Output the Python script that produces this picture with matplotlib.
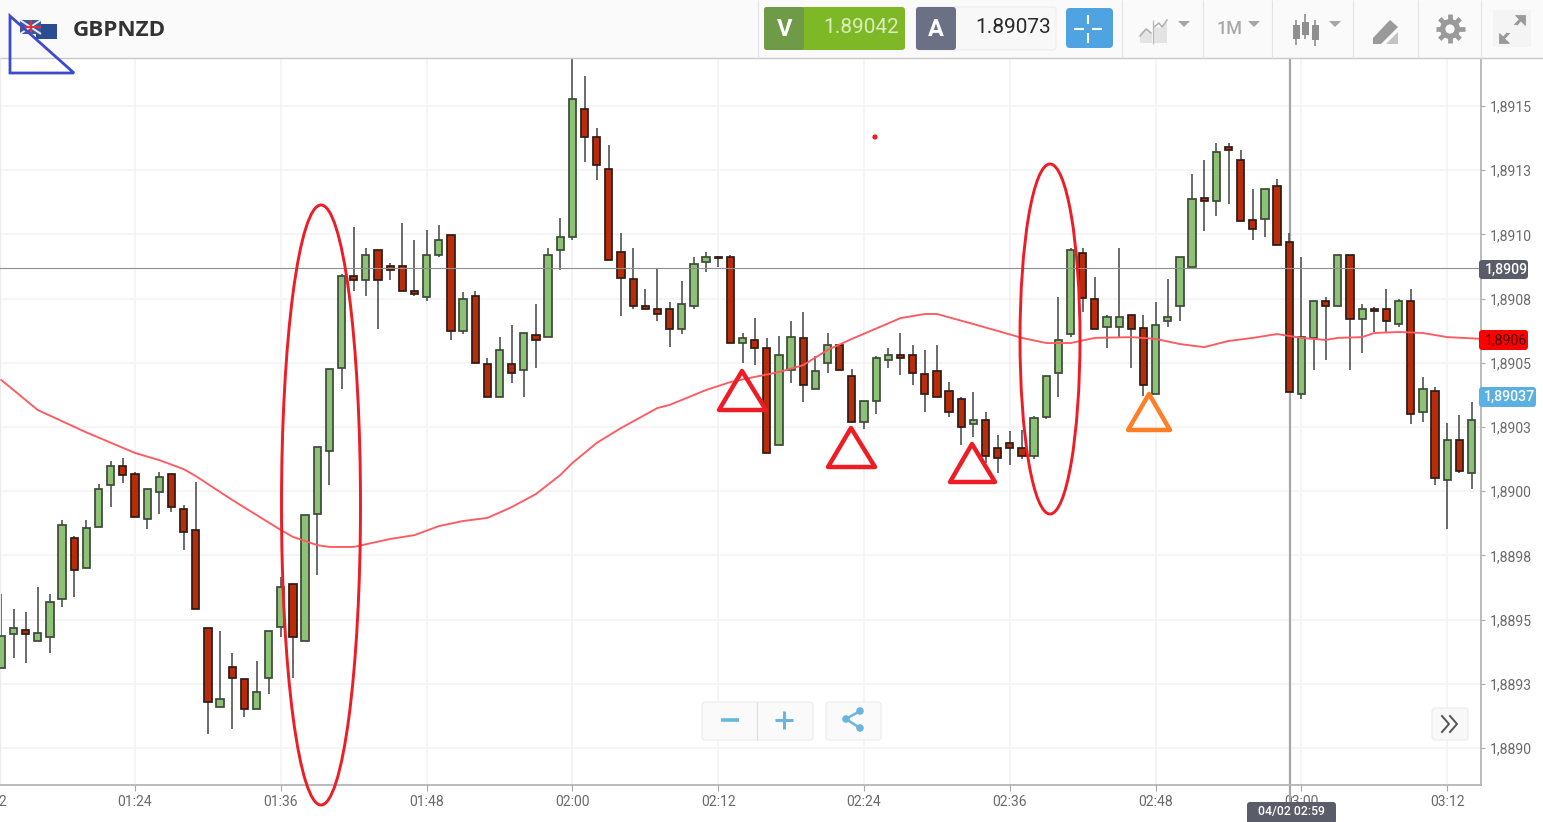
import numpy as np
import matplotlib
matplotlib.use('Agg')
import matplotlib.pyplot as plt
from matplotlib.patches import FancyBboxPatch, Rectangle, Ellipse, Polygon, Circle

plt.rcParams['font.family'] = ['Roboto', 'DejaVu Sans']

# prices are in 1e-5 above this base (one candle a minute, first one is 01:13)
base_price = 1.8890
first_minute = 73

opens = [31.2, 44.4, 45.9, 41.7, 43.2, 58.0, 81.8, 70.1, 86.1, 102.4,
         109.8, 106.7, 89.2, 99.7, 106.7, 93.1, 84.9, 46.7, 16.0, 31.5,
         26.9, 15.2, 27.3, 47.1, 63.9, 41.7, 91.1, 115.7, 148.0, 183.8,
         182.2, 193.9, 187.7, 187.7, 178.0, 175.6, 192.0, 199.8, 162.4, 176.0,
         149.5, 136.7, 149.5, 147.2, 160.8, 160.0, 193.9, 199.0, 248.8, 237.9,
         225.5, 193.1, 182.6, 172.1, 170.9, 170.9, 163.2, 172.1, 189.2, 191.2,
         191.2, 157.7, 158.9, 155.8, 118.0, 147.2, 159.7, 139.8, 149.9, 156.9,
         144.9, 126.9, 135.1, 151.1, 153.0, 153.0, 145.6, 146.8, 139.0, 135.9,
         126.2, 127.7, 116.8, 118.8, 116.8, 113.7, 128.9, 146.0, 161.2, 192.8,
         174.8, 163.9, 163.9, 168.6, 163.5, 137.8, 166.3, 172.1, 187.3, 214.2,
         213.0, 234.0, 229.0, 205.6, 206.0, 218.8, 197.0, 137.8, 159.7, 174.1,
         172.1, 192.0, 167.1, 170.9, 170.9, 165.1, 174.1, 130.8, 139.0, 104.4,
         119.9, 107.1]
closes = [43.6, 46.7, 44.4, 44.8, 56.9, 86.8, 69.3, 85.7, 100.9, 109.8,
          106.3, 90.0, 100.9, 105.5, 93.8, 84.1, 54.1, 17.9, 19.1, 27.3,
          15.2, 21.8, 45.6, 62.7, 43.2, 90.7, 117.2, 147.6, 183.8, 182.2,
          192.0, 182.2, 186.1, 178.0, 176.8, 192.0, 197.8, 162.4, 174.8, 149.9,
          136.7, 155.0, 146.0, 161.6, 158.9, 192.0, 199.0, 252.7, 237.9, 227.0,
          190.0, 183.0, 172.1, 170.9, 169.0, 163.2, 172.9, 188.5, 191.2, 191.0,
          157.7, 159.7, 155.8, 114.9, 153.0, 160.0, 141.4, 146.8, 156.9, 147.2,
          126.9, 135.1, 151.9, 153.0, 151.9, 146.0, 137.8, 136.7, 130.8, 125.0,
          127.7, 113.7, 112.9, 116.8, 113.7, 128.5, 144.9, 158.9, 193.9, 175.2,
          163.2, 167.8, 167.8, 163.2, 141.4, 164.7, 167.8, 191.2, 213.8, 213.0,
          232.1, 232.9, 205.2, 202.1, 217.7, 195.9, 138.6, 160.0, 174.1, 172.1,
          192.0, 167.1, 170.9, 170.2, 166.3, 174.1, 130.1, 139.8, 105.1, 119.9,
          107.9, 127.7]
highs = [60.0, 54.1, 53.0, 62.7, 60.0, 88.8, 82.6, 88.8, 102.8, 111.8,
         112.9, 107.5, 100.9, 107.5, 106.7, 94.6, 103.6, 46.7, 45.6, 37.0,
         26.9, 33.9, 45.6, 66.6, 63.9, 90.7, 117.2, 147.6, 184.6, 202.9,
         194.7, 193.9, 188.9, 204.4, 197.8, 201.7, 203.7, 199.8, 177.6, 178.0,
         151.9, 160.0, 164.7, 161.6, 172.9, 194.7, 206.4, 271.8, 261.7, 241.4,
         234.8, 200.5, 194.7, 178.7, 186.5, 173.7, 181.8, 191.2, 193.1, 191.6,
         192.0, 161.6, 167.4, 159.7, 160.4, 166.3, 169.8, 152.6, 161.6, 156.9,
         147.6, 135.1, 152.6, 155.8, 161.6, 156.9, 155.0, 156.9, 142.5, 136.7,
         138.6, 130.8, 121.9, 123.4, 123.8, 129.3, 144.9, 175.6, 194.7, 194.7,
         183.4, 168.6, 194.7, 168.6, 168.6, 173.7, 182.6, 191.2, 223.5, 229.0,
         235.6, 235.6, 232.9, 217.7, 217.7, 221.6, 200.5, 191.2, 174.1, 175.6,
         192.0, 192.0, 172.9, 171.7, 178.7, 174.8, 178.7, 144.5, 140.6, 126.6,
         129.7, 134.7]
lows = [31.2, 35.0, 33.1, 41.7, 37.0, 54.9, 58.8, 70.1, 86.1, 93.8,
        103.2, 90.0, 85.3, 91.1, 91.9, 77.1, 54.1, 5.5, 16.0, 7.4,
        12.1, 15.2, 21.0, 43.2, 27.3, 41.7, 67.4, 102.4, 139.8, 178.0,
        176.0, 163.2, 182.2, 178.0, 176.0, 174.1, 191.2, 158.9, 161.2, 149.9,
        136.7, 136.7, 142.1, 136.7, 148.0, 160.0, 186.1, 197.8, 228.2, 221.2,
        190.0, 168.2, 170.9, 170.9, 166.3, 156.1, 161.2, 170.9, 185.4, 187.3,
        157.7, 149.9, 149.1, 114.9, 118.0, 142.1, 134.7, 139.8, 146.0, 147.2,
        126.9, 124.2, 130.1, 148.0, 145.2, 141.4, 130.8, 136.7, 128.9, 118.0,
        121.1, 111.0, 107.1, 110.2, 112.5, 112.5, 128.1, 136.7, 160.0, 169.8,
        163.2, 155.8, 160.0, 148.0, 137.1, 137.8, 163.9, 166.3, 187.3, 201.3,
        207.2, 211.8, 205.2, 197.8, 199.0, 195.9, 138.6, 135.9, 147.2, 151.1,
        172.1, 147.2, 153.8, 162.0, 162.0, 163.9, 126.2, 126.9, 102.4, 85.3,
        107.1, 100.9]

ma_minutes = [73, 76, 80, 84, 86, 88, 89, 92, 96, 97, 99, 100, 102, 105, 107, 109,
              111, 113, 115, 117, 119, 120, 122, 124, 127, 128, 131, 133, 135, 137,
              139, 141, 143, 147, 149, 150, 153, 157, 159, 161, 163, 166, 168, 170,
              172, 174, 176, 178, 180, 182, 183, 185, 186, 188, 190, 192, 195]
ma_values = [143.3, 131.6, 122.9, 114.9, 112.1, 108.6, 105.9, 96.6, 84.9, 82.2, 79.0,
             78.3, 78.3, 81.4, 82.9, 86.4, 88.4, 89.6, 93.8, 98.9, 106.3, 111.0, 118.8,
             124.6, 132.4, 133.6, 139.4, 142.5, 144.5, 146.4, 149.1, 155.0, 159.3, 167.4,
             169.0, 169.0, 165.1, 159.7, 157.7, 157.7, 159.7, 160.0, 159.3, 157.3, 156.1,
             158.5, 159.7, 161.2, 159.7, 158.9, 159.7, 160.0, 161.6, 162.0, 161.6, 160.0,
             159.3]

y_ticks = [1.8890, 1.88925, 1.8895, 1.88975, 1.8900, 1.89025, 1.8905, 1.89075, 1.8910, 1.89125, 1.8915]
y_labels = ['1,8890', '1,8893', '1,8895', '1,8898', '1,8900', '1,8903', '1,8905', '1,8908',
            '1,8910', '1,8913', '1,8915']
x_ticks = [84, 96, 108, 120, 132, 144, 156, 168, 180, 192]
x_labels = ['01:24', '01:36', '01:48', '02:00', '02:12', '02:24', '02:36', '02:48', '03:00', '03:12']

crosshair_price = 1.89087
crosshair_minute = 179.07

W, H = 1543, 822
fig = plt.figure(figsize=(W / 100, H / 100), dpi=100, facecolor='white')
ax = fig.add_axes([0, (H - 785) / H, 1481 / W, (785 - 59) / H])

minutes = first_minute + np.arange(len(opens))
o = base_price + np.array(opens) * 1e-5
c = base_price + np.array(closes) * 1e-5
hi = base_price + np.array(highs) * 1e-5
lo = base_price + np.array(lows) * 1e-5
up = c >= o

ax.set_axisbelow(True)
ax.grid(True, color='#f3f3f3', lw=1.2)

ax.axvline(crosshair_minute, ymin=-0.052, ymax=1, color='#a6a6a6', lw=1.6, clip_on=False, zorder=1.5)

ax.vlines(minutes, lo, hi, color='#444444', lw=1.1, zorder=2)
ax.bar(minutes[up], (c - o)[up], bottom=o[up], width=0.6, color='#8cc176',
       edgecolor='#3d4a38', lw=1.25, zorder=3)
ax.bar(minutes[~up], (c - o)[~up], bottom=o[~up], width=0.6, color='#b82c0a',
       edgecolor='#2e1a14', lw=1.25, zorder=3)

ax.plot(ma_minutes, base_price + np.array(ma_values) * 1e-5, color='#ff5a5f', lw=1.35, zorder=4)
ax.axhline(crosshair_price, color='#8f8f8f', lw=0.8, zorder=5)

ax.set_xlim(84 - 135 / 12.15, 84 + 1346 / 12.15)
ax.set_ylim(base_price - 14.4e-5, base_price + 268.3e-5)
ax.set_xticks(x_ticks)
ax.set_xticklabels(x_labels)
ax.set_yticks(y_ticks)
ax.set_yticklabels(y_labels)
ax.yaxis.tick_right()
ax.tick_params(axis='x', length=4, color='#a8a8a8', labelcolor='#6a6a6a', labelsize=10.1, pad=3.5)
ax.tick_params(axis='y', length=3, color='#a8a8a8', labelcolor='#6a6a6a', labelsize=10.1, pad=3)
ax.spines['top'].set_visible(False)
ax.spines['left'].set_color('#ececec')
ax.spines['right'].set_color('#b5b5b5')
ax.spines['bottom'].set_color('#b5b5b5')
ax.spines['right'].set_linewidth(1.3)
ax.spines['bottom'].set_linewidth(1.3)
# the 01:12 label is cut by the left edge
ax.annotate('01:12', xy=(72, 0), xycoords=('data', 'axes fraction'), xytext=(0, -7.5),
            textcoords='offset points', ha='center', va='top', color='#6a6a6a', fontsize=10.1,
            annotation_clip=False)

# everything that is not price data goes on a pixel overlay
ui = fig.add_axes([0, 0, 1, 1], zorder=10)
ui.set_xlim(0, W)
ui.set_ylim(H, 0)
ui.axis('off')
ui.patch.set_alpha(0)


def box(x0, y0, x1, y1, color, edge='none', r=3, z=2, lw=0.8):
    ui.add_patch(FancyBboxPatch((x0, y0), x1 - x0, y1 - y0, boxstyle='round,pad=0,rounding_size=%g' % r,
                                fc=color, ec=edge, lw=lw, zorder=z))


def seg(xs, ys, color, lw, z=6):
    ui.plot(xs, ys, color=color, lw=lw, solid_capstyle='butt', zorder=z)


# header
ui.add_patch(Rectangle((0, 0), W, 58, fc='#fafafa', ec='none', zorder=1))
seg([0, W], [58.5, 58.5], '#c8c8c8', 1.0, z=2)
for x in [758, 1122, 1203, 1272, 1353, 1418, 1481]:
    seg([x, x], [0, 58], '#e4e4e4', 0.8, z=2)

# flags
ui.add_patch(Rectangle((36, 24), 21, 15, fc='#2b4c91', ec='none', zorder=3))
ui.add_patch(Rectangle((20, 20), 21, 14, fc='#3a5a9e', ec='none', zorder=3))
seg([20, 41], [20, 34], '#e8e8f0', 1.4, z=4)
seg([20, 41], [34, 20], '#e8e8f0', 1.4, z=4)
seg([30.5, 30.5], [20, 34], '#e03040', 1.6, z=4)
seg([20, 41], [27, 27], '#e03040', 1.4, z=4)
ui.text(73, 30.5, 'GBPNZD', family='Open Sans', weight='bold', fontsize=16.2, color='#333333', va='center', zorder=5)

# sell / buy boxes
box(764, 7, 905, 50, '#7fb826')
box(764, 7, 804, 50, '#6f9a48', z=3)
ui.text(785, 29.5, 'V', color='white', weight='bold', fontsize=17, ha='center', va='center', zorder=5)
ui.text(861, 27.5, '1.89042', color='#d9ecbc', fontsize=15, ha='center', va='center', zorder=5)
box(916, 7, 1056, 50, '#f8f8f8', edge='#ececec')
box(916, 7, 956, 50, '#6b7085', z=3)
ui.text(936, 29.5, 'A', color='white', weight='bold', fontsize=17, ha='center', va='center', zorder=5)
ui.text(1013, 27.5, '1.89073', color='#2a2a2a', fontsize=15, ha='center', va='center', zorder=5)

# crosshair button
box(1066, 8, 1113, 48, '#4ea3e0', r=4)
seg([1074, 1084], [29, 29], 'white', 1.5)
seg([1092, 1102], [29, 29], 'white', 1.5)
seg([1088, 1088], [15, 24], 'white', 1.5)
seg([1088, 1088], [33, 43], 'white', 1.5)

# chart type icon
ui.add_patch(Polygon([(1140, 43), (1140, 33), (1147, 28), (1152, 33), (1152, 43)], fc='#e4e4e4', ec='none', zorder=3))
ui.add_patch(Polygon([(1154, 43), (1154, 27), (1161, 28), (1167, 22), (1167, 43)], fc='#e4e4e4', ec='none', zorder=3))
ui.plot([1140, 1146, 1151], [36, 29, 33], color='#b0b0b0', lw=1.1, zorder=4)
ui.plot([1154, 1159, 1162, 1167], [27, 23, 27, 20], color='#b0b0b0', lw=1.1, zorder=4)
seg([1153, 1153], [20, 44], '#b8b8b8', 0.9, z=4)
for x, y in [(1184, 24), (1254, 24), (1335, 24)]:
    ui.add_patch(Polygon([(x - 6, y - 3), (x + 6, y - 3), (x, y + 3)], fc='#a5a5a5', ec='none', zorder=4))
ui.text(1229, 29, '1M', color='#a8a8a8', weight='medium', fontsize=13, ha='center', va='center', zorder=5)

# candle icon
for x, w0, b0, b1, w1 in [(1296, 20, 25, 39, 45), (1305, 14, 22, 35, 39), (1315, 20, 25, 40, 46)]:
    seg([x, x], [w0, w1], '#8f8f8f', 1.2)
    ui.add_patch(Rectangle((x - 3.5, b0), 7, b1 - b0, fc='#8f8f8f', ec='none', zorder=6))

# drawing tool icon
ui.add_patch(Polygon([(1386, 44), (1398, 32), (1398, 44)], fc='#c4c4c4', ec='none', zorder=4))
ui.add_patch(Polygon([(1373, 38), (1390, 20), (1398, 27), (1381, 44), (1373, 44)], fc='#9a9a9a', ec='none', zorder=4))

# gear
ui.add_patch(Circle((1450, 29), 10, fc='#9a9a9a', ec='none', zorder=4))
for a in np.arange(0, 360, 45):
    ang = np.deg2rad(a)
    seg([1450 + 8 * np.cos(ang), 1450 + 14.5 * np.cos(ang)], [29 + 8 * np.sin(ang), 29 + 14.5 * np.sin(ang)],
        '#9a9a9a', 3.4, z=4)
ui.add_patch(Circle((1450, 29), 4.6, fc='#fafafa', ec='none', zorder=5))

# expand button
ui.add_patch(Rectangle((1493, 10), 38, 37, fc='#f4f4f4', ec='none', zorder=2))
seg([1501, 1523], [41, 17], '#9a9a9a', 2.2, z=4)
ui.add_patch(Polygon([(1515, 15), (1525, 15), (1525, 25)], fc='#9a9a9a', ec='#9a9a9a', lw=0.6, zorder=4))
ui.add_patch(Polygon([(1499, 33), (1499, 43), (1509, 43)], fc='#9a9a9a', ec='#9a9a9a', lw=0.6, zorder=4))
ui.add_patch(Rectangle((1507, 25), 10, 8, fc='#f4f4f4', ec='none', zorder=5))

# hand drawn marks on top of the chart
ui.add_patch(Polygon([(10, 16), (10, 73), (74, 73)], closed=True, fc='none', ec='#3d4acb', lw=2.0, zorder=8, joinstyle='miter'))
ellipse_red = '#ee1c25'
ui.add_patch(Ellipse((321, 505), 79, 600, fc='none', ec=ellipse_red, lw=2.1, zorder=8))
ui.add_patch(Ellipse((1050, 339), 60, 350, fc='none', ec=ellipse_red, lw=2.1, zorder=8))
for tri in [[(742, 371), (719, 410), (766, 410)], [(851, 428), (828, 467), (875, 467)], [(972, 444), (950, 482), (995, 482)]]:
    ui.add_patch(Polygon(tri, closed=True, fc='none', ec=ellipse_red, lw=3.2, zorder=8, joinstyle='round'))
ui.add_patch(Polygon([(1149, 394), (1128, 430), (1170, 430)], closed=True, fc='none', ec='#ff7f27', lw=3.2, zorder=8, joinstyle='round'))
ui.add_patch(Circle((875, 137), 2.6, fc=ellipse_red, ec='none', zorder=8))

# price labels
box(1479, 260, 1528, 279, '#5a5c69')
ui.text(1506, 269.5, '1,8909', color='white', weight='medium', fontsize=10.2, ha='center', va='center', zorder=5)
box(1479, 330, 1528, 350, '#ff0000')
ui.text(1506, 340, '1,8906', color='#4a0a0a', fontsize=10.2, ha='center', va='center', zorder=5)
box(1479, 387, 1536, 407, '#5ab0e0')
ui.text(1509, 397, '1,89037', color='white', weight='medium', fontsize=10.2, ha='center', va='center', zorder=5)
box(1247, 802, 1336, 824, '#5a5c69')
ui.text(1291, 811, '04/02 02:59', color='white', weight='medium', fontsize=8.8, ha='center', va='center', zorder=5)

# zoom and share buttons
box(702, 702, 813, 740, '#fafafa', edge='#ececec')
seg([757, 757], [702, 740], '#dddddd', 0.8)
seg([721, 739], [720, 720], '#6cb4e0', 2.6)
seg([775, 793], [720, 720], '#6cb4e0', 2.2)
seg([784, 784], [711, 729], '#6cb4e0', 2.2)
box(826, 702, 881, 740, '#fafafa', edge='#ececec')
seg([860, 846, 860], [711, 719, 728], '#6cb4e0', 1.8)
for x, y in [(860, 711), (846, 719), (860, 728)]:
    ui.add_patch(Circle((x, y), 3.8, fc='#6cb4e0', ec='none', zorder=7))
box(1432, 708, 1468, 740, '#f8f8f8', edge='#ececec')
ui.plot([1442, 1449, 1442], [716, 724, 732], color='#555555', lw=1.4, zorder=6)
ui.plot([1450, 1457, 1450], [716, 724, 732], color='#555555', lw=1.4, zorder=6)

plt.savefig('out.png', dpi=100)
